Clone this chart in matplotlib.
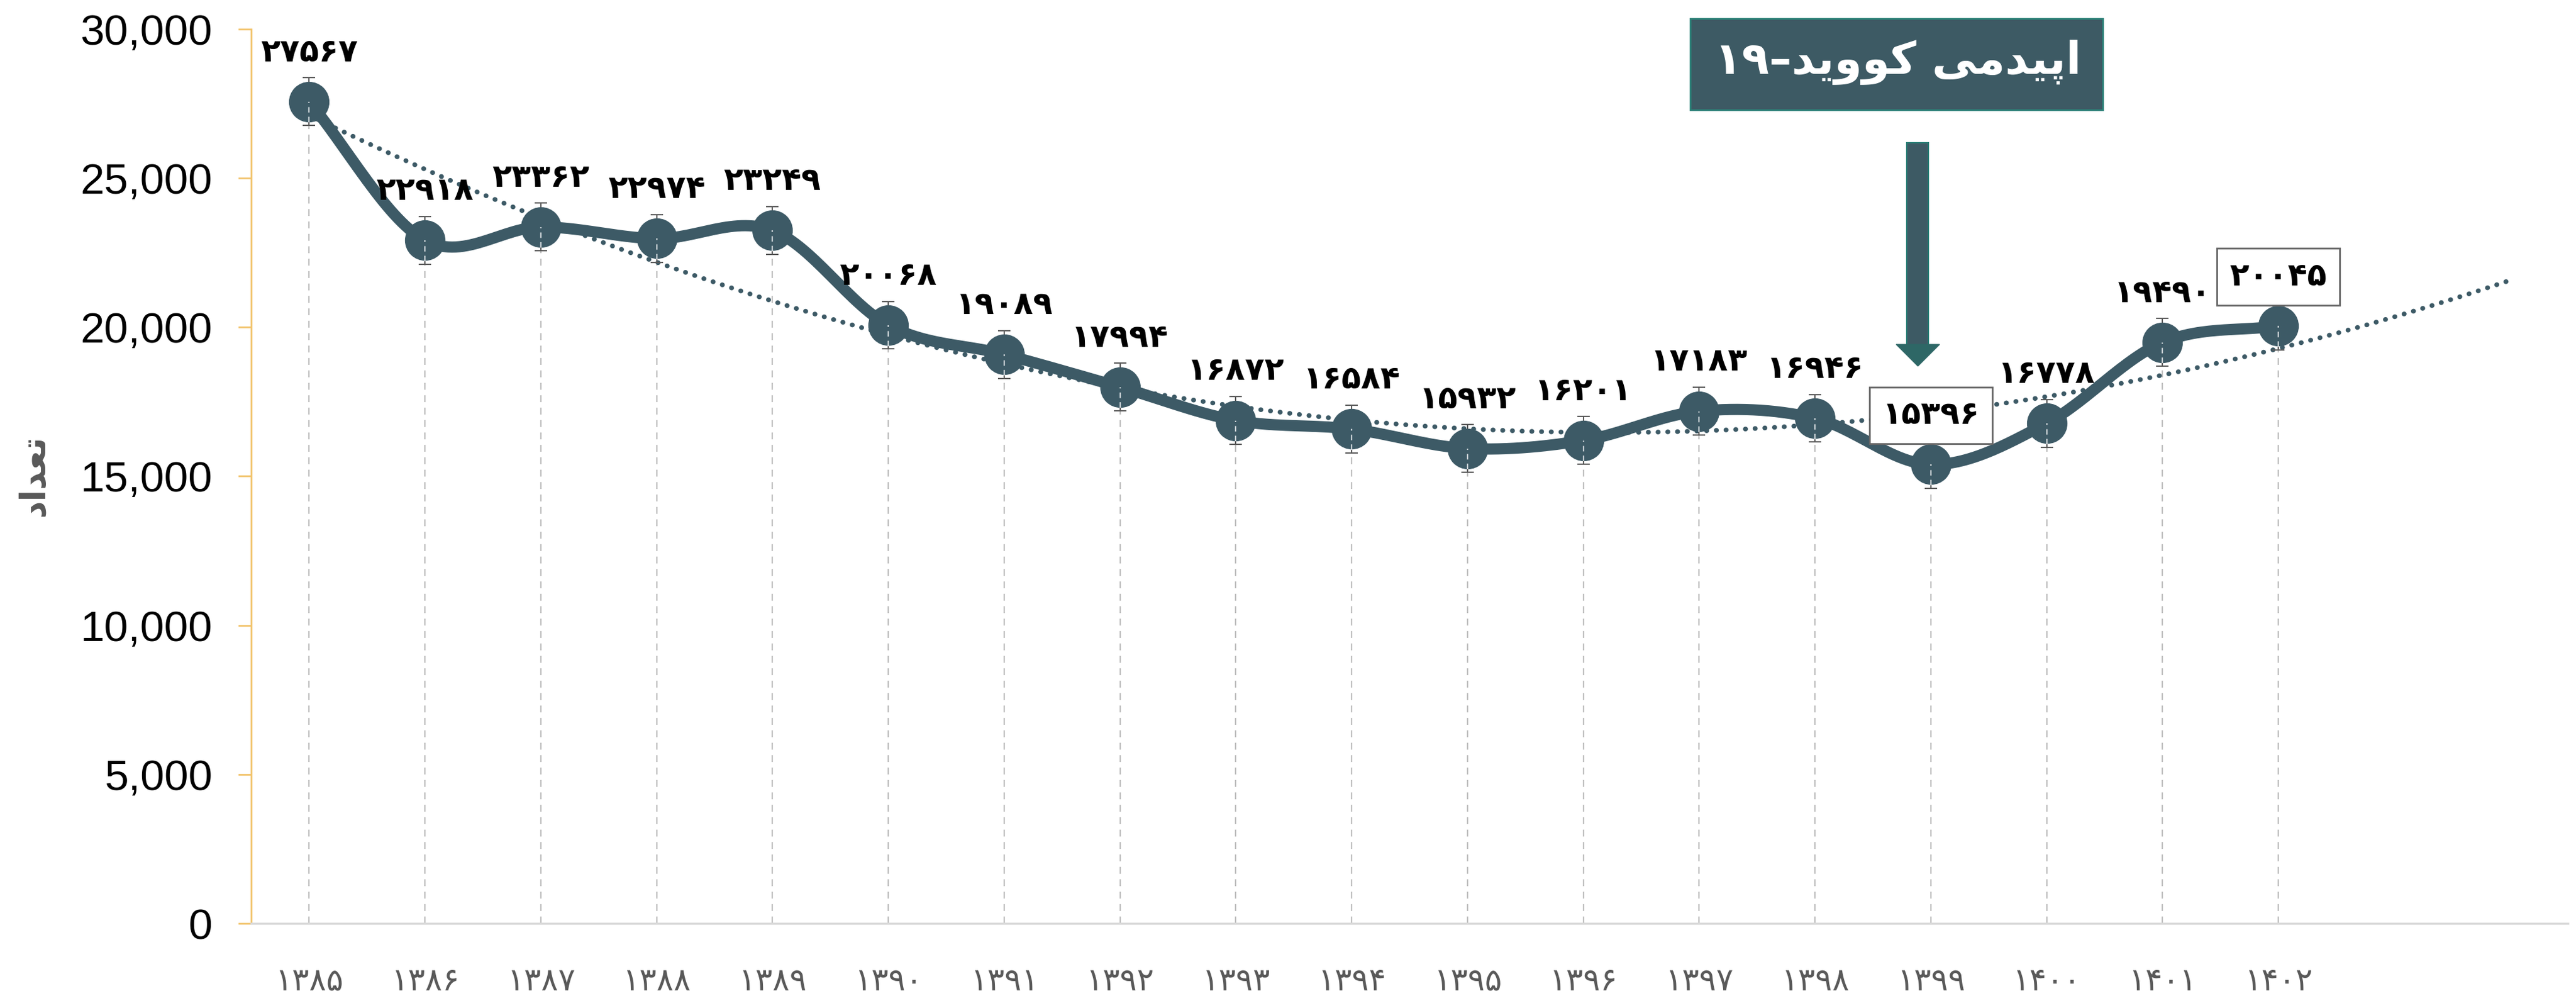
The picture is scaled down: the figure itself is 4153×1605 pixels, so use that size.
import numpy as np
import matplotlib
matplotlib.use("Agg")
import matplotlib.pyplot as plt
from matplotlib.patches import Rectangle, Polygon

# ---------------- data ----------------
years = [1385, 1386, 1387, 1388, 1389, 1390, 1391, 1392, 1393, 1394,
         1395, 1396, 1397, 1398, 1399, 1400, 1401, 1402]
values = [27567, 22918, 23362, 22974, 23249, 20068, 19089, 17994, 16872, 16584,
          15932, 16201, 17183, 16946, 15396, 16778, 19490, 20045]
boxed_years = [1399, 1402]
err = 800
forecast_periods = 2
yticks = [0, 5000, 10000, 15000, 20000, 25000, 30000]
ylabel_text = "\uFEA9\uFE8D\uFEAA\uFECC\uFE97"  # تعداد (pre-shaped, visual order)
covid_text = "۱۹" + "–" + "\uFEAA\uFBFE\uFEED\uFEEE\uFB90" + " " + "\uFBFD\uFEE3\uFEAA\uFBFF\uFB58\uFE8D"

FA = str.maketrans("0123456789", "۰۱۲۳۴۵۶۷۸۹")
def fa(n):
    return str(n).translate(FA)

LINE = "#3D5A66"
W, H, DPI = 4153, 1605, 100
fig = plt.figure(figsize=(W / DPI, H / DPI), dpi=DPI)
ax = fig.add_axes([405 / W, 1 - 1488 / H, (4140 - 405) / W, (1488 - 47) / H])

x = np.array(years, dtype=float)
y = np.array(values, dtype=float)

# smoothed line (Catmull-Rom through data points)
def catmull(xs, ys, n=30):
    px = np.concatenate([[2 * xs[0] - xs[1]], xs, [2 * xs[-1] - xs[-2]]])
    py = np.concatenate([[2 * ys[0] - ys[1]], ys, [2 * ys[-1] - ys[-2]]])
    outx, outy = [], []
    t = np.linspace(0, 1, n, endpoint=False)
    for i in range(1, len(px) - 2):
        p0, p1, p2, p3 = [np.array([px[j], py[j]]) for j in (i - 1, i, i + 1, i + 2)]
        b0 = p1
        b1 = p1 + (p2 - p0) / 6
        b2 = p2 - (p3 - p1) / 6
        b3 = p2
        for tt in t:
            pt = ((1 - tt) ** 3) * b0 + 3 * ((1 - tt) ** 2) * tt * b1 + 3 * (1 - tt) * tt ** 2 * b2 + tt ** 3 * b3
            outx.append(pt[0]); outy.append(pt[1])
    outx.append(xs[-1]); outy.append(ys[-1])
    return np.array(outx), np.array(outy)

sx, sy = catmull(x, y)

# drop lines
for xi, yi in zip(x, y):
    ax.plot([xi, xi], [0, yi], color="#BFBFBF", lw=1.6, ls=(0, (5, 4)), zorder=2)

# trendline (2nd order polynomial, forecast forward)
idx = np.arange(len(x))
coef = np.polyfit(idx, y, 2)
tidx = np.linspace(0, len(x) - 1 + forecast_periods, 200)
ax.plot(x[0] + tidx, np.polyval(coef, tidx), color=LINE, lw=5.5,
        ls=(0, (0.05, 2.0)), dash_capstyle="round", zorder=3)

ax.plot(sx, sy, color=LINE, lw=13, solid_capstyle="round", zorder=4)
ax.errorbar(x, y, yerr=err, fmt="none", ecolor="#595959", elinewidth=1.5,
            capsize=7, capthick=1.5, zorder=5)
ax.plot(x, y, "o", color=LINE, ms=46, zorder=6)
for xi, yi in zip(x, y):
    ax.plot([xi, xi], [yi - 700, yi], color="#C8D0D4", lw=1.6, ls=(0, (4, 3)), zorder=7)

# data labels
for xi, yi in zip(years, values):
    kw = {}
    if xi in boxed_years:
        kw["bbox"] = dict(boxstyle="square,pad=0.4", fc="white", ec="#666666", lw=2)
    ax.annotate(fa(yi), (xi, yi), xytext=(0, 57), textcoords="offset points",
                ha="center", va="center", fontsize=37, fontweight="bold",
                family="DejaVu Sans", color="black", zorder=8, **kw)

# axes styling
ax.set_xlim(1384.5, 1404.5)
ax.set_ylim(0, 30000)
ax.set_yticks(yticks)
ax.set_yticklabels([f"{v:,}" for v in yticks], family="Liberation Sans", fontsize=50)
ax.set_xticks(years)
ax.set_xticklabels([fa(v) for v in years], family="DejaVu Sans", fontsize=37, color="#595959")
ax.tick_params(axis="x", length=0, pad=50)
ax.tick_params(axis="y", length=15, width=2, color="#F2C46D", pad=30)
for s in ["top", "right"]:
    ax.spines[s].set_visible(False)
ax.spines["left"].set_color("#F2C46D")
ax.spines["left"].set_linewidth(2)
ax.spines["bottom"].set_color("#D9D9D9")
ax.spines["bottom"].set_linewidth(2.5)

fig.text(55 / W, 1 - 766 / H, ylabel_text, rotation=90, ha="center", va="center",
         fontsize=40, fontweight="bold", color="#595959", family="DejaVu Sans")

# covid annotation box
tr = fig.dpi_scale_trans
fig.patches.append(Rectangle((2725 / DPI, (H - 177) / DPI), 665 / DPI, 147 / DPI,
                             transform=tr, fc="#3D5A64", ec="#2A8077", lw=2))
fig.text(3060 / W, 1 - 100 / H, covid_text, ha="center", va="center", fontsize=52,
         fontweight="bold", color="white", family="DejaVu Sans")

# arrow
fig.patches.append(Rectangle((3074 / DPI, (H - 560) / DPI), 35 / DPI, 330 / DPI,
                             transform=tr, fc="#3D5A64", ec="#2A8077", lw=1.5))
fig.patches.append(Polygon([(3057 / DPI, (H - 555) / DPI), (3127 / DPI, (H - 555) / DPI),
                            (3092 / DPI, (H - 590) / DPI)], closed=True,
                           transform=tr, fc="#2E6766", ec="#2E6766", lw=1))

fig.savefig("out.png", dpi=DPI, facecolor="white")
